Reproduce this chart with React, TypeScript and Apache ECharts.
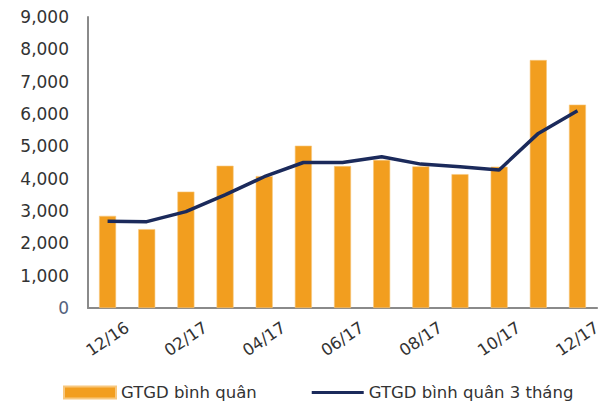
import React, { useEffect, useRef } from "react";
import * as echarts from "echarts";

const categories = ["12/16", "01/17", "02/17", "03/17", "04/17", "05/17", "06/17", "07/17", "08/17", "09/17", "10/17", "11/17", "12/17"];
const avgValues = [2850, 2440, 3600, 4400, 4080, 5020, 4390, 4580, 4380, 4140, 4370, 7670, 6290];
const avg3mValues = [2680, 2670, 2980, 3500, 4060, 4500, 4500, 4680, 4450, 4370, 4270, 5400, 6100];
const seriesNames = ["GTGD bình quân", "GTGD bình quân 3 tháng"];

export default function App() {
  const ref = useRef<HTMLDivElement>(null);
  useEffect(() => {
    if (!ref.current) return;
    const chart = echarts.init(ref.current, undefined, { renderer: "svg" });
    const font = "'DejaVu Sans', sans-serif";
    chart.setOption({
      animation: false,
      backgroundColor: "#ffffff",
      grid: { left: 88, top: 17, width: 520, height: 291, containLabel: false },
      legend: {
        left: 63,
        top: 384,
        padding: 0,
        itemWidth: 52,
        itemHeight: 12,
        itemGap: 55,
        textStyle: { fontFamily: font, fontSize: 16.5, color: "#333333" },
        data: [
          { name: seriesNames[0], icon: "rect" },
          { name: seriesNames[1], icon: "path://M0,0 H52 V3.2 H0 Z", itemStyle: { color: "#1B2A5B" } },
        ],
      },
      xAxis: {
        type: "category",
        data: categories,
        axisLine: { show: true, lineStyle: { color: "#8a8a8a", width: 2 } },
        axisTick: { show: false },
        axisLabel: {
          interval: 1,
          rotate: 34,
          align: "center",
          verticalAlign: "middle",
          fontFamily: font,
          fontSize: 16.5,
          color: "#333333",
          margin: 31,
        },
      },
      yAxis: {
        type: "value",
        min: 0,
        max: 9000,
        interval: 1000,
        splitLine: { show: false },
        axisTick: { show: false },
        axisLine: { show: true, lineStyle: { color: "#8a8a8a", width: 2 } },
        axisLabel: {
          margin: 19,
          fontFamily: font,
          fontSize: 17,
          color: "#333333",
          formatter: (v: number) => (v === 0 ? "{z|0}" : v.toLocaleString("en-US")),
          rich: { z: { color: "#55627d", fontFamily: font, fontSize: 17 } },
        },
      },
      series: [
        {
          name: seriesNames[0],
          type: "bar",
          data: avgValues,
          barWidth: 17,
          itemStyle: { color: "#F29E1F", borderColor: "#F7C77E", borderWidth: 0.6 },
        },
        {
          name: seriesNames[1],
          type: "line",
          data: avg3mValues,
          symbol: "none",
          lineStyle: { color: "#1B2A5B", width: 3.5 },
          itemStyle: { color: "#1B2A5B" },
        },
      ],
    });
    return () => chart.dispose();
  }, []);
  return <div ref={ref} style={{ position: "fixed", left: 0, top: 0, width: 604, height: 405 }} />;
}
